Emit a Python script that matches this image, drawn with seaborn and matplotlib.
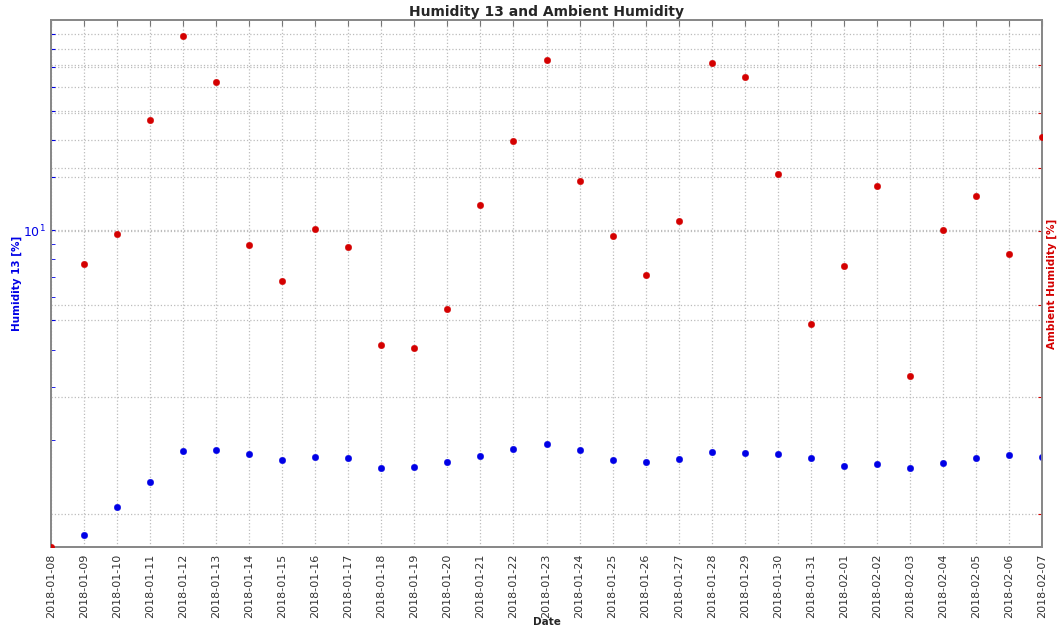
import matplotlib
matplotlib.use("Agg")
import matplotlib.pyplot as plt
import matplotlib.ticker as mticker
import matplotlib.dates as mdates
import seaborn as sns
import numpy as np
import pandas as pd

dates = pd.date_range("2018-01-08", "2018-02-07", freq="D")
humidity13 = [np.nan, 0.962, 1.193, 1.445, 1.834, 1.848, 1.792, 1.711, 1.751, 1.738,
              1.609, 1.622, 1.685, 1.765, 1.862, 1.935, 1.848, 1.711, 1.685, 1.724,
              1.820, 1.806, 1.792, 1.738, 1.635, 1.660, 1.609, 1.673, 1.738, 1.778, 1.751]
ambient = [27.7, 55.4, 59.6, 78.7, 96.6, 86.4, 58.0, 53.1, 60.3, 57.7,
           45.4, 45.1, 49.6, 64.0, 74.8, 91.1, 67.8, 59.3, 53.9, 61.4,
           90.5, 87.4, 69.0, 47.8, 55.1, 67.0, 42.1, 60.2, 65.4, 56.7, 75.5]

left_grid_ticks = [5, 10, 15, 20, 25, 30, 35, 40, 45]
left_minor_ticks = [2, 3, 4, 6, 7, 8, 9]
right_ticks = [30, 40, 50, 60, 70, 80, 90]

df = pd.DataFrame({"Date": dates, "Humidity 13": humidity13, "Ambient": ambient})

sns.set_style("white")
plt.rcParams["font.family"] = ["DejaVu Sans"]

fig = plt.figure(figsize=(10.6, 6.29), dpi=100)
ax1 = fig.add_axes([51 / 1060, 1 - 547 / 629, (1042 - 51) / 1060, (547 - 20) / 629])
ax2 = ax1.twinx()

blue = "#0000e6"
red = "#d40000"
grid_kw = dict(color="#bcbcbc", linestyle=":", linewidth=0.9)

sns.scatterplot(data=df, x="Date", y="Humidity 13", ax=ax1, color=blue, s=22,
                edgecolor=blue, linewidth=0.3, zorder=3)
sns.scatterplot(data=df, x="Date", y="Ambient", ax=ax2, color=red, s=22,
                edgecolor=red, linewidth=0.3, zorder=3)

ax1.set_yscale("log")
ax2.set_yscale("log")
ax1.set_ylim(0.88, 50.1)
ax2.set_ylim(27.7, 100.5)
ax1.set_xlim(dates[0], dates[-1])

def left_fmt(v, pos):
    return r"$10^{1}$" if abs(v - 10) < 1e-6 else ""

ax1.yaxis.set_major_locator(mticker.FixedLocator(left_grid_ticks))
ax1.yaxis.set_major_formatter(mticker.FuncFormatter(left_fmt))
ax1.yaxis.set_minor_locator(mticker.FixedLocator(left_minor_ticks))
ax1.yaxis.set_minor_formatter(mticker.NullFormatter())

ax2.yaxis.set_major_locator(mticker.FixedLocator(right_ticks))
ax2.yaxis.set_major_formatter(mticker.NullFormatter())
ax2.yaxis.set_minor_locator(mticker.NullLocator())

ax1.xaxis.set_major_locator(mdates.DayLocator())
ax1.xaxis.set_major_formatter(mdates.DateFormatter("%Y-%m-%d"))
for lab in ax1.get_xticklabels():
    lab.set_rotation(90)

ax1.grid(True, which="major", axis="both", **grid_kw)
ax2.grid(True, which="major", axis="y", **grid_kw)
ax1.set_axisbelow(True)
ax2.set_axisbelow(True)

ax1.tick_params(axis="x", which="both", direction="in", length=4, top=True,
                labelsize=8, labelcolor="#333333", color="#777777", pad=5)
ax1.tick_params(axis="y", which="both", direction="in", length=3, colors=blue,
                labelsize=9, left=True, right=False)
ax2.tick_params(axis="y", which="both", direction="in", length=3, colors=red,
                left=False, right=True)

for ax in (ax1, ax2):
    for sp in ax.spines.values():
        sp.set_color("#888888")
        sp.set_linewidth(1.3)

ax1.set_xlabel("Date", fontsize=7.5, fontweight="bold")
ax1.xaxis.set_label_coords(0.5, -0.133)
ax1.set_ylabel("Humidity 13 [%]", fontsize=7.5, fontweight="bold", color=blue)
ax1.yaxis.set_label_coords(-0.029, 0.5)
ax2.set_ylabel("Ambient Humidity [%]", fontsize=7.5, fontweight="bold", color=red)
ax2.yaxis.set_label_coords(1.005, 0.5)
ax1.set_title("Humidity 13 and Ambient Humidity", fontsize=10, fontweight="bold", pad=3)

fig.savefig("out.png", dpi=100)
